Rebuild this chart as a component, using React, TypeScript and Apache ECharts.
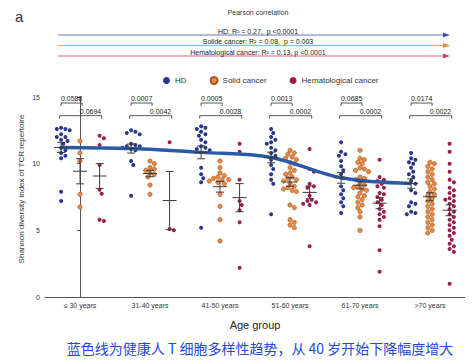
import React, { useEffect, useRef } from "react";
import * as echarts from "echarts";

const categories = ["≤ 30 years", "31-40 years", "41-50 years", "51-60 years", "61-70 years", ">70 years"];

const hdValues: number[][] = [
  [12.7, 12.6, 12.6, 12.5, 12.2, 12.0, 12.0, 11.8, 11.7, 11.5, 11.2, 11.0, 10.8, 10.6, 10.4, 7.9, 7.2],
  [12.5, 12.4, 12.3, 12.2, 11.5, 11.4, 11.3, 11.3, 11.2, 11.1, 11.0, 10.2, 9.9, 7.6],
  [12.8, 12.7, 12.6, 12.4, 12.2, 12.1, 11.8, 11.6, 11.3, 11.2, 11.1, 11.0, 9.7, 9.2, 8.9, 8.6, 5.2],
  [12.6, 12.3, 12.0, 11.8, 11.6, 11.5, 11.2, 11.0, 10.8, 10.6, 10.3, 9.9, 9.6, 9.2, 8.8, 8.5, 6.2],
  [11.6, 10.9, 10.7, 10.6, 10.2, 9.8, 9.5, 9.2, 8.9, 8.3, 8.0, 7.7, 7.4, 7.1, 6.8, 6.3],
  [10.8, 10.4, 10.3, 10.1, 10.0, 9.7, 9.4, 9.2, 9.0, 8.7, 8.5, 8.0, 7.8, 7.1, 7.0, 6.8, 6.4, 6.3, 6.2],
];

const solidValues: number[][] = [
  [11.7, 10.8, 10.2, 7.7, 6.75],
  [10.2, 10.0, 9.7, 9.6, 9.5, 9.3, 9.2, 9.0, 8.4, 7.7],
  [10.2, 9.7, 9.3, 9.1, 9.0, 8.9, 8.8, 8.8, 8.7, 8.6, 8.5, 7.7, 6.8, 5.8, 4.2],
  [11.0, 10.8, 10.7, 10.5, 10.4, 10.3, 10.1, 10.0, 9.7, 9.5, 9.3, 9.2, 9.0, 8.9, 8.8, 8.7, 8.5, 8.3, 8.2, 8.1, 8.0, 7.9, 6.9, 6.7, 5.8, 5.6, 5.4, 5.2],
  [11.0, 10.4, 10.3, 10.1, 10.0, 9.7, 9.6, 9.5, 9.4, 9.0, 8.9, 8.8, 8.6, 8.4, 8.3, 8.2, 8.1, 8.0, 7.8, 7.6, 7.5, 7.3, 7.1, 6.9, 6.7, 6.4, 6.0, 5.0],
  [10.1, 10.0, 9.8, 9.6, 9.4, 9.2, 9.0, 8.8, 8.6, 8.5, 8.3, 8.1, 7.9, 7.7, 7.6, 7.4, 7.2, 7.0, 6.8, 6.6, 6.4, 6.2, 6.0, 5.8, 5.6, 5.4, 5.2, 5.0, 4.8],
];

const hematoValues: number[][] = [
  [12.1, 11.9, 11.4, 9.9, 8.05, 7.75, 5.8, 5.7],
  [11.6, 5.1, 5.0],
  [11.5, 10.9, 8.8, 7.2, 6.9, 6.5, 5.6, 2.2],
  [11.1, 9.6, 9.4, 8.5, 8.3, 8.2, 7.6, 7.3, 7.2, 7.1, 7.0, 6.9, 3.8],
  [10.3, 9.0, 8.8, 8.7, 8.5, 8.3, 8.2, 7.8, 7.7, 7.5, 7.3, 7.1, 6.9, 6.6, 6.4, 6.2, 6.0, 5.8, 5.3, 3.5, 1.9],
  [11.5, 10.9, 10.0, 9.4, 8.8, 8.6, 8.2, 8.0, 7.8, 7.6, 7.4, 7.3, 7.2, 7.0, 6.8, 6.6, 6.4, 6.2, 6.0, 5.8, 5.6, 5.4, 5.2, 5.0, 4.8, 4.6, 4.3, 4.0, 3.8, 3.6, 3.4, 1.0],
];

const pHdVsSolid = ["0.0588", "0.0007", "0.0005", "0.0013", "0.0685", "0.0174"];
const pHdVsHemato = ["0.0694", "0.0042", "0.0028", "0.0002", "0.0002", "0.0022"];

const correlationLabels = [
  "HD: R² = 0.27,  p <0.0001",
  "Solide cancer: R² = 0.08,  p = 0.003",
  "Hematological cancer: R² = 0.13, p <0.0001",
];

const seriesNames = ["HD", "Solid cancer", "Hematological cancer"];
const caption = "蓝色线为健康人 T 细胞多样性趋势，从 40 岁开始下降幅度增大";

// ---- layout / style constants ----
const FONT = "Liberation Sans, Arial, sans-serif";
const COLORS = { hd: "#2a378e", solid: "#ec8a3e", solidBorder: "#a85a2c", hemato: "#a31a4e" };
const ARROW_COLORS = ["#3f56a8", "#ee8a45", "#d23c78"];
const OFFSETS = [-0.27, 0.0, 0.28];
const GRID = { left: 45, right: 10, top: 97, bottom: 67 };
const PX_PER_X = 70;
const PX_PER_Y = 200 / 15;
const DOT = 4.0;

function mean(a: number[]) {
  return a.reduce((s, v) => s + v, 0) / a.length;
}
function sem(a: number[]) {
  const m = mean(a);
  const v = a.reduce((s, x) => s + (x - m) * (x - m), 0) / (a.length - 1);
  return Math.sqrt(v) / Math.sqrt(a.length);
}

// deterministic beeswarm: place each point at the nearest free horizontal slot
function swarm(values: number[], center: number, diam: number): number[][] {
  const order = values.map((_, i) => i).sort((a, b) => values[b] - values[a]);
  const placed: { x: number; y: number }[] = [];
  const out: number[][] = [];
  const step = diam * 0.5;
  for (const i of order) {
    const py = values[i] * PX_PER_Y;
    let chosen = 0;
    for (let k = 0; k < 60; k++) {
      const off = k === 0 ? 0 : (k % 2 === 1 ? 1 : -1) * Math.ceil(k / 2) * step;
      const ok = placed.every((p) => (p.x - off) ** 2 + (p.y - py) ** 2 >= diam * diam);
      if (ok) {
        chosen = off;
        break;
      }
    }
    placed.push({ x: chosen, y: py });
    out.push([center + chosen / PX_PER_X, values[i]]);
  }
  return out;
}

export default function App() {
  const ref = useRef<HTMLDivElement>(null);

  useEffect(() => {
    if (!ref.current) return;
    const chart = echarts.init(ref.current, undefined, { renderer: "svg" });

    const groups = [hdValues, solidValues, hematoValues];
    const scatterData = groups.map((g, s) =>
      g.flatMap((vals, i) => swarm(vals, i + OFFSETS[s], DOT + 0.3))
    );
    const statData = groups.map((g, s) =>
      g.map((vals, i) => {
        const m = mean(vals);
        const e = sem(vals);
        return [i + OFFSETS[s], m, m - e, m + e];
      })
    );
    const trendData = hdValues.map((vals, i) => [i + OFFSETS[0], mean(vals)]);

    const bracketData: any[] = [];
    const bracketLabels: string[] = [];
    categories.forEach((_, i) => {
      bracketData.push([i + OFFSETS[0], i + OFFSETS[1] + 0.03, 14.55, i - 0.12]);
      bracketLabels.push(pHdVsSolid[i]);
      bracketData.push([i + OFFSETS[0] - 0.02, i + OFFSETS[2] + 0.03, 13.6, i + 0.15]);
      bracketLabels.push(pHdVsHemato[i]);
    });

    const scatterStyles = [
      { color: COLORS.hd, borderWidth: 0 },
      { color: COLORS.solid, borderColor: COLORS.solidBorder, borderWidth: 0.7 },
      { color: COLORS.hemato, borderWidth: 0 },
    ];

    const graphic: any[] = [
      { type: "text", left: 15, top: 9, style: { text: "a", font: `15px ${FONT}`, fill: "#333" } },
      {
        type: "text",
        x: 258,
        y: 12,
        style: { text: "Pearson correlation", font: `7px ${FONT}`, fill: "#333", align: "center", verticalAlign: "middle" },
      },
      {
        type: "text",
        x: 21,
        y: 189,
        rotation: Math.PI / 2,
        style: {
          text: "Shannon diversity index of TCR repertoire",
          font: `8px ${FONT}`,
          fill: "#333",
          align: "center",
          verticalAlign: "middle",
        },
      },
      {
        type: "text",
        x: 260,
        y: 348,
        style: {
          text: caption,
          font: `14px "Noto Sans CJK SC"`,
          fill: "#2447e0",
          align: "center",
          verticalAlign: "middle",
        },
      },
    ];
    const lineYs = [35, 45.5, 56];
    const textYs = [31, 41.5, 52];
    correlationLabels.forEach((t, k) => {
      graphic.push({
        type: "line",
        shape: { x1: 58, y1: lineYs[k], x2: 444, y2: lineYs[k] },
        style: { stroke: ARROW_COLORS[k], lineWidth: 0.8 },
      });
      graphic.push({
        type: "polygon",
        shape: { points: [[443, lineYs[k] - 2.5], [450, lineYs[k]], [443, lineYs[k] + 2.5]] },
        style: { fill: ARROW_COLORS[k] },
      });
      graphic.push({
        type: "text",
        x: 258,
        y: textYs[k],
        style: { text: t, font: `7px ${FONT}`, fill: "#222", align: "center", verticalAlign: "middle" },
      });
    });

    const option: any = {
      animation: false,
      backgroundColor: "#fff",
      textStyle: { fontFamily: FONT },
      graphic,
      legend: {
        data: seriesNames,
        top: 71,
        left: 158,
        itemGap: 23,
        itemWidth: 7,
        itemHeight: 7,
        icon: "circle",
        textStyle: { fontSize: 8, color: "#333", fontFamily: FONT },
      },
      grid: { ...GRID },
      xAxis: [
        {
          type: "category",
          data: categories,
          boundaryGap: true,
          axisLine: { lineStyle: { color: "#555", width: 1 } },
          axisTick: { alignWithLabel: true, length: 3, lineStyle: { color: "#555" } },
          axisLabel: { fontSize: 7, color: "#333", margin: 5, fontFamily: FONT },
          name: "Age group",
          nameLocation: "middle",
          nameGap: 22,
          nameTextStyle: { fontSize: 11, color: "#222", fontFamily: FONT },
        },
        { type: "value", min: -0.5, max: 5.5, show: false },
      ],
      yAxis: {
        type: "value",
        min: 0,
        max: 15,
        interval: 5,
        axisLine: { show: true, lineStyle: { color: "#555", width: 1 } },
        axisTick: { show: true, length: 3, lineStyle: { color: "#555" } },
        axisLabel: { fontSize: 7, color: "#333", margin: 5, fontFamily: FONT },
        splitLine: { show: false },
      },
      series: [
        ...seriesNames.map((name, s) => ({
          name,
          type: "scatter",
          xAxisIndex: 1,
          data: scatterData[s],
          symbol: "circle",
          symbolSize: s === 1 ? DOT + 0.3 : DOT,
          itemStyle: { ...scatterStyles[s], opacity: 1 },
          z: 2,
        })),
        {
          type: "line",
          xAxisIndex: 1,
          data: trendData,
          smooth: 0.35,
          symbol: "none",
          lineStyle: { color: "#2a5ba8", width: 3.5 },
          z: 3,
          silent: true,
        },
        {
          type: "custom",
          xAxisIndex: 1,
          data: statData.flat(),
          encode: { x: 0, y: [1, 2, 3] },
          z: 4,
          renderItem: (params: any, api: any) => {
            const x = api.value(0);
            const pm = api.coord([x, api.value(1)]);
            const plo = api.coord([x, api.value(2)]);
            const phi = api.coord([x, api.value(3)]);
            const st = { stroke: "#3a3a3a", lineWidth: 1 };
            return {
              type: "group",
              children: [
                { type: "line", shape: { x1: pm[0] - 7, y1: pm[1], x2: pm[0] + 7, y2: pm[1] }, style: st },
                { type: "line", shape: { x1: plo[0], y1: plo[1], x2: phi[0], y2: phi[1] }, style: st },
                { type: "line", shape: { x1: plo[0] - 4, y1: plo[1], x2: plo[0] + 4, y2: plo[1] }, style: st },
                { type: "line", shape: { x1: phi[0] - 4, y1: phi[1], x2: phi[0] + 4, y2: phi[1] }, style: st },
              ],
            };
          },
        },
        {
          type: "custom",
          xAxisIndex: 1,
          data: bracketData,
          encode: { x: [0, 1], y: 2 },
          z: 4,
          renderItem: (params: any, api: any) => {
            const p1 = api.coord([api.value(0), api.value(2)]);
            const p2 = api.coord([api.value(1), api.value(2)]);
            const pt = api.coord([api.value(3), api.value(2)]);
            const st = { stroke: "#444", lineWidth: 0.9, fill: "none" };
            return {
              type: "group",
              children: [
                {
                  type: "polyline",
                  shape: { points: [[p1[0], p1[1] + 3], [p1[0], p1[1]], [p2[0], p2[1]], [p2[0], p2[1] + 3]] },
                  style: st,
                },
                {
                  type: "text",
                  x: pt[0],
                  y: pt[1] - 1,
                  style: {
                    text: bracketLabels[params.dataIndex],
                    font: `7px ${FONT}`,
                    fill: "#222",
                    align: "center",
                    verticalAlign: "bottom",
                  },
                },
              ],
            };
          },
        },
      ],
    };

    chart.setOption(option);
    return () => chart.dispose();
  }, []);

  return <div ref={ref} style={{ position: "fixed", left: 0, top: 0, width: 475, height: 364 }} />;
}
